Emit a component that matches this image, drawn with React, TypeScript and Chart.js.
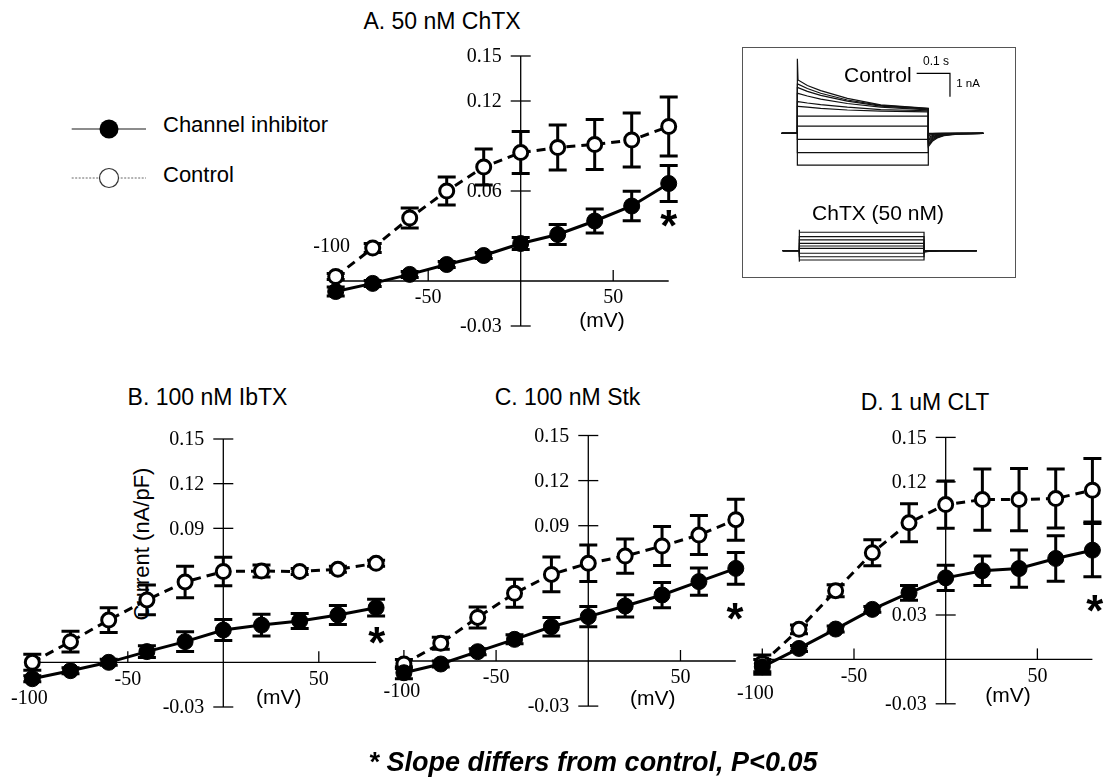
import React, { useEffect, useRef } from "react";
import { Chart, registerables } from "chart.js";

Chart.register(...registerables);

// ---------- DATA ----------
const voltages = [-100, -80, -60, -40, -20, 0, 20, 40, 60, 80];

// A. 50 nM ChTX
const chtxInhibitor = [-0.007, -0.0016, 0.0044, 0.011, 0.017, 0.025, 0.031, 0.04, 0.05, 0.065];
const chtxInhibitorErr = [0.003, 0.002, 0.002, 0.002, 0.002, 0.004, 0.0067, 0.008, 0.0098, 0.012];
const chtxControl = [0.003, 0.022, 0.042, 0.06, 0.076, 0.0856, 0.089, 0.091, 0.094, 0.103];
const chtxControlErr = [0.002, 0.003, 0.0067, 0.0093, 0.012, 0.014, 0.015, 0.0167, 0.018, 0.0196];

// B. 100 nM IbTX
const ibtxInhibitor = [-0.011, -0.0056, 0.0, 0.0072, 0.0139, 0.0217, 0.025, 0.0278, 0.0318, 0.0367];
const ibtxInhibitorErr = [0.002, 0.002, 0.002, 0.004, 0.0067, 0.007, 0.0073, 0.005, 0.0064, 0.0056];
const ibtxControl = [0.0, 0.0139, 0.0284, 0.0419, 0.054, 0.061, 0.0613, 0.061, 0.0625, 0.0665];
const ibtxControlErr = [0.0054, 0.007, 0.0083, 0.01, 0.0106, 0.0095, 0.004, 0.002, 0.002, 0.002];

// C. 100 nM Stk
const stkInhibitor = [-0.0078, -0.002, 0.0062, 0.0144, 0.0228, 0.0295, 0.0366, 0.0439, 0.0528, 0.0616];
const stkInhibitorErr = [0.004, 0.002, 0.002, 0.003, 0.0062, 0.0067, 0.0074, 0.0084, 0.009, 0.0105];
const stkControl = [-0.002, 0.0118, 0.029, 0.045, 0.0576, 0.065, 0.0698, 0.0765, 0.0838, 0.094];
const stkControlErr = [0.003, 0.004, 0.007, 0.0093, 0.0115, 0.0122, 0.0114, 0.013, 0.013, 0.0136];

// D. 1 uM CLT
const cltInhibitor = [-0.005, 0.0074, 0.0205, 0.0338, 0.045, 0.0551, 0.0599, 0.0614, 0.0682, 0.0738];
const cltInhibitorErr = [0.005, 0.002, 0.002, 0.002, 0.005, 0.0085, 0.0099, 0.0126, 0.0154, 0.018];
const cltControl = [-0.0027, 0.0203, 0.0464, 0.072, 0.0923, 0.1046, 0.108, 0.108, 0.1087, 0.1143];
const cltControlErr = [0.0056, 0.003, 0.004, 0.0088, 0.0128, 0.016, 0.0207, 0.021, 0.02, 0.0214];

// tick labels
const xTickValues = [-50, 50];
const xTickLabels = ["-50", "50"];
const aYTicks = [0.15, 0.12, 0.06, -0.03];
const bYTicks = [0.15, 0.12, 0.09, -0.03];
const cYTicks = [0.15, 0.12, 0.09, -0.03];
const dYTicks = [0.15, 0.12, 0.03, -0.03];

// inset current traces (time in ms, current in nA)
const controlTimes = [-47, 0, 0, 2, 30, 70, 150, 250, 393, 393, 405, 420, 440, 480, 558];
const controlTraces = [
  [0, 0, 3.2, 2.29, 2.05, 1.83, 1.5, 1.22, 1.07, -0.57, -0.34, -0.2, -0.1, -0.03, 0],
  [0, 0, 2.11, 2.11, 1.92, 1.72, 1.43, 1.2, 1.06, -0.5, -0.3, -0.17, -0.08, -0.02, 0],
  [0, 0, 1.96, 1.96, 1.8, 1.63, 1.38, 1.17, 1.04, -0.44, -0.26, -0.15, -0.07, -0.02, 0],
  [0, 0, 1.71, 1.71, 1.6, 1.47, 1.28, 1.12, 1.01, -0.38, -0.22, -0.12, -0.06, -0.01, 0],
  [0, 0, 1.36, 1.36, 1.3, 1.23, 1.12, 1.02, 0.97, -0.31, -0.18, -0.1, -0.05, -0.01, 0],
  [0, 0, 1.16, 1.16, 1.12, 1.07, 1.0, 0.95, 0.92, -0.25, -0.14, -0.08, -0.04, -0.01, 0],
  [0, 0, 0.74, 0.74, 0.74, 0.74, 0.74, 0.74, 0.74, -0.18, -0.1, -0.05, -0.02, 0, 0],
  [0, 0, 0.31, 0.31, 0.31, 0.31, 0.31, 0.31, 0.31, -0.1, -0.05, -0.03, -0.01, 0, 0],
  [0, 0, -0.26, -0.26, -0.26, -0.26, -0.26, -0.26, -0.26, -0.04, -0.02, -0.01, 0, 0, 0],
  [0, 0, -0.83, -0.83, -0.83, -0.83, -0.83, -0.83, -0.83, -0.02, -0.01, 0, 0, 0, 0],
  [0, 0, -1.36, -1.36, -1.36, -1.36, -1.36, -1.36, -1.36, 0, 0, 0, 0, 0, 0],
];
const chtxTimes = [-49, 0, 0, 2, 375, 375, 390, 420, 533];
const chtxTraces = [
  [0, 0, 0.9, 0.8, 0.79, -0.06, -0.03, -0.01, 0],
  [0, 0, 0.6, 0.6, 0.6, -0.05, -0.02, 0, 0],
  [0, 0, 0.46, 0.46, 0.46, -0.04, -0.02, 0, 0],
  [0, 0, 0.31, 0.31, 0.31, -0.03, -0.01, 0, 0],
  [0, 0, 0.2, 0.2, 0.2, -0.02, -0.01, 0, 0],
  [0, 0, 0.1, 0.1, 0.1, -0.01, 0, 0, 0],
  [0, 0, -0.11, -0.11, -0.11, 0, 0, 0, 0],
  [0, 0, -0.26, -0.26, -0.26, 0, 0, 0, 0],
  [0, 0, -0.47, -0.4, -0.4, 0, 0, 0, 0],
];
const scaleBarTime = [358, 458];
const scaleBarCurrent = [2.57, 1.57];

// ---------- STYLE / LAYOUT ----------
const SANS = '"Liberation Sans", Arial, Helvetica, sans-serif';
const SERIF = '"Liberation Serif", "Times New Roman", Times, serif';
const W = 1107;
const H = 778;

type Area = { x0: number; x1: number; y0: number; y1: number };

const panels = [
  {
    key: "A",
    inh: chtxInhibitor, inhErr: chtxInhibitorErr, ctl: chtxControl, ctlErr: chtxControlErr,
    yTicks: aYTicks,
    area: { x0: 335.7, x1: 668.7, y0: 56, y1: 326 },
    hundredTick: false, hundredLabel: { dx: -4, dy: -34 }, mvLabel: { x: 44, dy: 40 },
    star: { x: 80, y: 0.042 },
  },
  {
    key: "B",
    inh: ibtxInhibitor, inhErr: ibtxInhibitorErr, ctl: ibtxControl, ctlErr: ibtxControlErr,
    yTicks: bYTicks,
    area: { x0: 32.3, x1: 376.1, y0: 439, y1: 707 },
    hundredTick: false, hundredLabel: { dx: -3, dy: 36 }, mvLabel: { x: 29, dy: 36 },
    star: { x: 80.3, y: 0.0183 },
  },
  {
    key: "C",
    inh: stkInhibitor, inhErr: stkInhibitorErr, ctl: stkControl, ctlErr: stkControlErr,
    yTicks: cYTicks,
    area: { x0: 403.9, x1: 735.8, y0: 435.5, y1: 706.1 },
    hundredTick: true, hundredLabel: { dx: -2, dy: 31 }, mvLabel: { x: 35, dy: 38 },
    star: { x: 79.6, y: 0.0328 },
  },
  {
    key: "D",
    inh: cltInhibitor, inhErr: cltInhibitorErr, ctl: cltControl, ctlErr: cltControlErr,
    yTicks: dYTicks,
    area: { x0: 762.3, x1: 1092.4, y0: 437.4, y1: 703.8 },
    hundredTick: true, hundredLabel: { dx: -7, dy: 34 }, mvLabel: { x: 34, dy: 37 },
    star: { x: 81.3, y: 0.0381 },
  },
];

function canvasBox(area: Area, m: { l: number; t: number; r: number; b: number }) {
  const left = Math.max(0, Math.floor(area.x0 - m.l));
  const top = Math.max(0, Math.floor(area.y0 - m.t));
  const right = Math.min(W, Math.ceil(area.x1 + m.r));
  const bottom = Math.min(H, Math.ceil(area.y1 + m.b));
  return {
    left, top, width: right - left, height: bottom - top,
    padding: { left: area.x0 - left, top: area.y0 - top, right: right - area.x1, bottom: bottom - area.y1 },
  };
}

function fmtTick(v: number) {
  return v.toFixed(2);
}

function drawErrorBars(ctx: CanvasRenderingContext2D, xs: any, ys: any, vals: number[], errs: number[]) {
  ctx.lineWidth = 3;
  ctx.strokeStyle = "#000";
  voltages.forEach((v, i) => {
    const px = xs.getPixelForValue(v);
    const top = ys.getPixelForValue(vals[i] + errs[i]);
    const bot = ys.getPixelForValue(vals[i] - errs[i]);
    ctx.beginPath();
    ctx.moveTo(px, top);
    ctx.lineTo(px, bot);
    ctx.moveTo(px - 9, top);
    ctx.lineTo(px + 9, top);
    ctx.moveTo(px - 9, bot);
    ctx.lineTo(px + 9, bot);
    ctx.stroke();
  });
}

function PanelChart({ cfg }: { cfg: any }) {
  const ref = useRef<HTMLCanvasElement>(null);
  const box = canvasBox(cfg.area, { l: 60, t: 20, r: 45, b: 50 });
  useEffect(() => {
    if (!ref.current) return;
    const plugin = {
      id: "panelAxes" + cfg.key,
      beforeDatasetsDraw(chart: any) {
        const ctx: CanvasRenderingContext2D = chart.ctx;
        const xs = chart.scales.x;
        const ys = chart.scales.y;
        const ox = xs.getPixelForValue(0);
        const oy = ys.getPixelForValue(0);
        ctx.save();
        ctx.strokeStyle = "#000";
        ctx.fillStyle = "#000";
        ctx.lineWidth = 1.3;
        ctx.beginPath();
        ctx.moveTo(xs.getPixelForValue(-100), oy);
        ctx.lineTo(xs.getPixelForValue(80), oy);
        ctx.moveTo(ox, ys.getPixelForValue(0.15));
        ctx.lineTo(ox, ys.getPixelForValue(-0.03));
        ctx.stroke();
        // y ticks
        ctx.font = `20px ${SERIF}`;
        ctx.textAlign = "right";
        ctx.textBaseline = "middle";
        cfg.yTicks.forEach((v: number) => {
          const py = ys.getPixelForValue(v);
          ctx.beginPath();
          ctx.moveTo(ox - 10, py);
          ctx.lineTo(ox + 10, py);
          ctx.stroke();
          ctx.fillText(fmtTick(v), ox - 19, py + 1);
        });
        // x ticks
        ctx.textAlign = "center";
        xTickValues.forEach((v, i) => {
          const px = xs.getPixelForValue(v);
          ctx.beginPath();
          ctx.moveTo(px, oy);
          ctx.lineTo(px, oy - 11);
          ctx.stroke();
          ctx.fillText(xTickLabels[i], px, oy + 17);
        });
        const p100 = xs.getPixelForValue(-100);
        if (cfg.hundredTick) {
          ctx.beginPath();
          ctx.moveTo(p100, oy);
          ctx.lineTo(p100, oy - 11);
          ctx.stroke();
        }
        ctx.fillText("-100", p100 + cfg.hundredLabel.dx, oy + cfg.hundredLabel.dy);
        ctx.font = `21px ${SANS}`;
        ctx.fillText("(mV)", xs.getPixelForValue(cfg.mvLabel.x), oy + cfg.mvLabel.dy);
        // error bars
        drawErrorBars(ctx, xs, ys, cfg.ctl, cfg.ctlErr);
        drawErrorBars(ctx, xs, ys, cfg.inh, cfg.inhErr);
        ctx.restore();
      },
      afterDatasetsDraw(chart: any) {
        const ctx: CanvasRenderingContext2D = chart.ctx;
        const xs = chart.scales.x;
        const ys = chart.scales.y;
        const cx = xs.getPixelForValue(cfg.star.x);
        const cy = ys.getPixelForValue(cfg.star.y);
        ctx.save();
        ctx.font = `bold 100px ${SANS}`;
        let m = ctx.measureText("*");
        const gw = m.actualBoundingBoxLeft + m.actualBoundingBoxRight;
        const size = (100 * 17) / (gw || 30);
        ctx.font = `bold ${size}px ${SANS}`;
        m = ctx.measureText("*");
        ctx.textAlign = "left";
        ctx.textBaseline = "alphabetic";
        ctx.fillStyle = "#000";
        const x = cx - (m.actualBoundingBoxRight - m.actualBoundingBoxLeft) / 2;
        const y = cy + (m.actualBoundingBoxAscent - m.actualBoundingBoxDescent) / 2;
        ctx.fillText("*", x, y);
        ctx.restore();
      },
    };
    const mk = (vals: number[]) => voltages.map((v, i) => ({ x: v, y: vals[i] }));
    const chart = new Chart(ref.current, {
      type: "scatter",
      data: {
        datasets: [
          {
            label: "Channel inhibitor",
            data: mk(cfg.inh),
            showLine: true,
            borderColor: "#000",
            borderWidth: 3,
            pointRadius: 8,
            pointBackgroundColor: "#000",
            pointBorderColor: "#000",
            pointBorderWidth: 1,
            clip: false,
          } as any,
          {
            label: "Control",
            data: mk(cfg.ctl),
            showLine: true,
            borderColor: "#000",
            borderWidth: 3,
            borderDash: [9, 6],
            pointRadius: 7,
            pointBackgroundColor: "#fff",
            pointBorderColor: "#000",
            pointBorderWidth: 3,
            clip: false,
          } as any,
        ],
      },
      options: {
        animation: false,
        responsive: false,
        devicePixelRatio: 1,
        layout: { padding: box.padding },
        scales: {
          x: { type: "linear", min: -100, max: 80, display: false },
          y: { type: "linear", min: -0.03, max: 0.15, display: false },
        },
        plugins: { legend: { display: false }, tooltip: { enabled: false } },
        events: [],
      },
      plugins: [plugin],
    });
    return () => chart.destroy();
  }, []);
  return (
    <canvas
      ref={ref}
      width={box.width}
      height={box.height}
      style={{ position: "absolute", left: box.left, top: box.top, width: box.width, height: box.height }}
    />
  );
}

function TraceChart({ times, traces, area, yMin, yMax, tMin, tMax, scaleBar }: any) {
  const ref = useRef<HTMLCanvasElement>(null);
  const box = canvasBox(area, { l: 4, t: 4, r: 4, b: 4 });
  useEffect(() => {
    if (!ref.current) return;
    const plugin = {
      id: "scaleBar",
      afterDatasetsDraw(chart: any) {
        if (!scaleBar) return;
        const ctx: CanvasRenderingContext2D = chart.ctx;
        const xs = chart.scales.x;
        const ys = chart.scales.y;
        ctx.save();
        ctx.strokeStyle = "#000";
        ctx.lineWidth = 1.2;
        ctx.beginPath();
        ctx.moveTo(xs.getPixelForValue(scaleBarTime[0]), ys.getPixelForValue(scaleBarCurrent[0]));
        ctx.lineTo(xs.getPixelForValue(scaleBarTime[1]), ys.getPixelForValue(scaleBarCurrent[0]));
        ctx.lineTo(xs.getPixelForValue(scaleBarTime[1]), ys.getPixelForValue(scaleBarCurrent[1]));
        ctx.stroke();
        ctx.restore();
      },
    };
    const chart = new Chart(ref.current, {
      type: "scatter",
      data: {
        datasets: traces.map((tr: number[]) => ({
          data: times.map((t: number, i: number) => ({ x: t, y: tr[i] })),
          showLine: true,
          borderColor: "#111",
          borderWidth: 1.2,
          pointRadius: 0,
          clip: false,
        })),
      },
      options: {
        animation: false,
        responsive: false,
        devicePixelRatio: 1,
        layout: { padding: box.padding },
        scales: {
          x: { type: "linear", min: tMin, max: tMax, display: false },
          y: { type: "linear", min: yMin, max: yMax, display: false },
        },
        plugins: { legend: { display: false }, tooltip: { enabled: false } },
        events: [],
      },
      plugins: [plugin],
    });
    return () => chart.destroy();
  }, []);
  return (
    <canvas
      ref={ref}
      width={box.width}
      height={box.height}
      style={{ position: "absolute", left: box.left, top: box.top, width: box.width, height: box.height }}
    />
  );
}

function Label({ text, x, y, size, align = "center", style = {} }: any) {
  const tx = align === "center" ? "-50%" : align === "right" ? "-100%" : "0";
  return (
    <div
      style={{
        position: "absolute",
        left: x,
        top: y,
        transform: `translate(${tx}, -50%)`,
        fontFamily: SANS,
        fontSize: size,
        lineHeight: 1,
        whiteSpace: "nowrap",
        color: "#000",
        ...style,
      }}
    >
      {text}
    </div>
  );
}

export default function App() {
  return (
    <div
      style={{
        position: "absolute",
        left: 0,
        top: 0,
        width: W,
        height: H,
        overflow: "hidden",
        background: "#fff",
        fontFamily: SANS,
      }}
    >
      {/* titles */}
      <Label text="A. 50 nM ChTX" x={442} y={21} size={23} />
      <Label text="B. 100 nM IbTX" x={207.5} y={397} size={23} />
      <Label text="C. 100 nM Stk" x={567.5} y={397} size={23} />
      <Label text="D. 1 uM CLT" x={925} y={402} size={23} />

      {/* y-axis label */}
      <div
        style={{
          position: "absolute",
          left: 141.7,
          top: 544,
          transform: "translate(-50%, -50%) rotate(-90deg)",
          fontFamily: SANS,
          fontSize: 22,
          lineHeight: 1,
          whiteSpace: "nowrap",
        }}
      >
        Current (nA/pF)
      </div>

      {/* legend */}
      <svg style={{ position: "absolute", left: 0, top: 0 }} width={200} height={220}>
        <line x1={71.7} y1={129} x2={146} y2={129} stroke="#666" strokeWidth={1.5} />
        <circle cx={109} cy={129} r={9.5} fill="#000" />
        <line x1={71.7} y1={178} x2={146} y2={178} stroke="#666" strokeWidth={1} strokeDasharray="2 1.5" />
        <circle cx={109} cy={178} r={9.5} fill="#fff" stroke="#333" strokeWidth={1.2} />
      </svg>
      <Label text="Channel inhibitor" x={163} y={125} size={22} align="left" />
      <Label text="Control" x={163} y={175} size={22} align="left" />

      {/* inset */}
      <div
        style={{
          position: "absolute",
          left: 741.5,
          top: 47,
          width: 274.5,
          height: 230.5,
          border: "1.2px solid #555",
          boxSizing: "border-box",
        }}
      />
      <TraceChart
        times={controlTimes}
        traces={controlTraces}
        area={{ x0: 781.7, x1: 983.3, y0: 51.7, y1: 180 }}
        tMin={-47}
        tMax={558}
        yMin={-2}
        yMax={3.5}
        scaleBar={true}
      />
      <TraceChart
        times={chtxTimes}
        traces={chtxTraces}
        area={{ x0: 782.7, x1: 976.7, y0: 215.7, y1: 274 }}
        tMin={-49}
        tMax={533}
        yMin={-1}
        yMax={1.5}
        scaleBar={false}
      />
      <Label text="Control" x={911.7} y={74} size={21} align="right" />
      <Label text="0.1 s" x={936} y={61} size={12} />
      <Label text="1 nA" x={968} y={83.5} size={11.5} />
      <Label text="ChTX (50 nM)" x={878} y={212} size={21} />

      {/* panels */}
      {panels.map((p) => (
        <PanelChart key={p.key} cfg={p} />
      ))}

      {/* footer */}
      <Label
        text="* Slope differs from control, P<0.05"
        x={593}
        y={762}
        size={27}
        style={{ fontWeight: "bold", fontStyle: "italic" }}
      />
    </div>
  );
}
